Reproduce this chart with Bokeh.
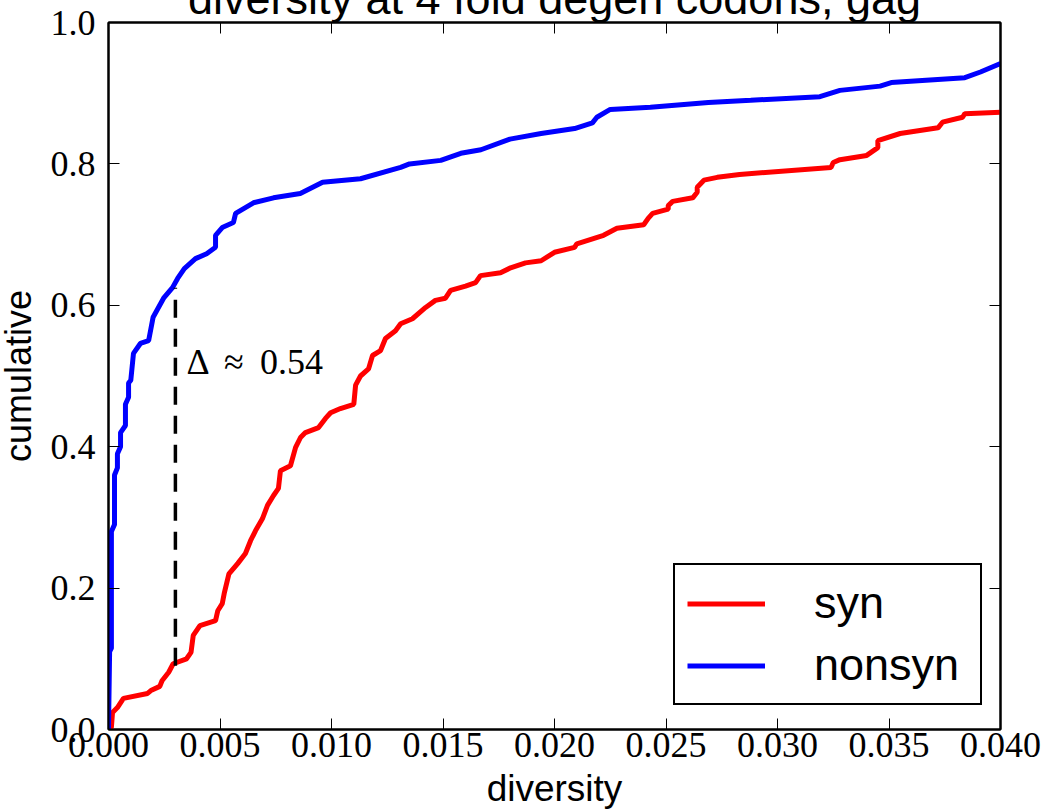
from bokeh.plotting import figure
from bokeh.models import (LinearAxis, FixedTicker, PrintfTickFormatter, Label,
                          Legend, LegendItem, ColumnDataSource, Title)
from bokeh.embed import file_html
from bokeh.resources import INLINE

# ---------------- data ----------------
title_text = "diversity at 4 fold degen codons, gag"
x_label = "diversity"
y_label = "cumulative"
series_names = ["syn", "nonsyn"]

syn_x = [0.0, 0.00013, 0.00018, 0.0004, 0.00067, 0.00175, 0.0019, 0.0023, 0.0024,
         0.0027, 0.0029, 0.0035, 0.0037, 0.0038, 0.0041, 0.0048, 0.0049, 0.0051,
         0.0052, 0.0054, 0.0058, 0.00614, 0.00637, 0.00659, 0.0069, 0.00713,
         0.0074, 0.00762, 0.00771, 0.00816, 0.00839, 0.00861, 0.00883, 0.00942,
         0.00973, 0.00996, 0.0104, 0.0110, 0.01108, 0.0113, 0.01166, 0.01184,
         0.0122, 0.01242, 0.01287, 0.0131, 0.01363, 0.01422, 0.01466, 0.01511,
         0.01534, 0.01601, 0.01646, 0.01668, 0.01758, 0.01803, 0.0187, 0.0194,
         0.0200, 0.0209, 0.0210, 0.0222, 0.0228, 0.0240, 0.0242, 0.0244, 0.0251,
         0.0251, 0.0253, 0.0262, 0.0264, 0.0264, 0.0267, 0.0273, 0.0283, 0.0324,
         0.0325, 0.0328, 0.0340, 0.0345, 0.0345, 0.0355, 0.0372, 0.0374, 0.0383,
         0.0384, 0.0400]
syn_y = [0.0, 0.003, 0.024, 0.031, 0.044, 0.051, 0.055, 0.061, 0.069,
         0.081, 0.093, 0.100, 0.109, 0.133, 0.147, 0.154, 0.168, 0.178,
         0.194, 0.220, 0.235, 0.249, 0.267, 0.281, 0.298, 0.317,
         0.331, 0.341, 0.366, 0.373, 0.399, 0.413, 0.420, 0.427,
         0.440, 0.448, 0.454, 0.460, 0.487, 0.500, 0.510, 0.529,
         0.536, 0.553, 0.564, 0.574, 0.581, 0.597, 0.607, 0.610,
         0.621, 0.627, 0.632, 0.642, 0.646, 0.653, 0.660, 0.663,
         0.675, 0.682, 0.687, 0.699, 0.709, 0.714, 0.723, 0.730, 0.736,
         0.741, 0.747, 0.752, 0.760, 0.767, 0.777, 0.781, 0.785, 0.795,
         0.802, 0.806, 0.812, 0.823, 0.833, 0.843, 0.851, 0.859, 0.866,
         0.871, 0.873]

nonsyn_x = [0.0, 0.00005, 0.00013, 0.00013, 0.00027, 0.00027, 0.0004, 0.0004,
            0.00054, 0.00054, 0.00076, 0.00076, 0.0009, 0.0009, 0.0010, 0.00112,
            0.00143, 0.0018, 0.0020, 0.00247, 0.00287, 0.0031, 0.0034, 0.0039,
            0.0044, 0.0048, 0.0048, 0.0051, 0.0056, 0.0057, 0.0065, 0.0074,
            0.0086, 0.0096, 0.0113, 0.0131, 0.0135, 0.0149, 0.0158, 0.0167,
            0.0180, 0.0194, 0.0209, 0.0217, 0.0219, 0.0225, 0.0243, 0.0269,
            0.0288, 0.0319, 0.0328, 0.0346, 0.0351, 0.0384, 0.0391, 0.0400]
nonsyn_y = [0.0, 0.110, 0.115, 0.280, 0.290, 0.360, 0.370, 0.390,
            0.400, 0.420, 0.430, 0.460, 0.470, 0.490, 0.494, 0.532,
            0.546, 0.550, 0.583, 0.610, 0.625, 0.638, 0.652, 0.666,
            0.673, 0.682, 0.699, 0.710, 0.717, 0.730, 0.745, 0.752,
            0.758, 0.774, 0.779, 0.795, 0.800, 0.805, 0.815, 0.820,
            0.835, 0.843, 0.850, 0.858, 0.866, 0.877, 0.880, 0.887,
            0.890, 0.895, 0.904, 0.910, 0.915, 0.922, 0.930, 0.942]

ks_x = [0.003, 0.003]
ks_y = [0.090, 0.625]
ks_text = "Δ \u2009≈\u2009 0.54"

x_ticks = [0.0, 0.005, 0.010, 0.015, 0.020, 0.025, 0.030, 0.035, 0.040]
y_ticks = [0.0, 0.2, 0.4, 0.6, 0.8, 1.0]

# ---------------- figure ----------------
SANS = "Liberation Sans"
SERIF = "Liberation Serif"
SHIFT = 68          # canvas part hidden above the window (title is cropped there)
LSHIFT = 30         # canvas part hidden left of the window
TOP = 22 + SHIFT

p = figure(width=1042 + LSHIFT, height=811 + SHIFT, x_range=(0, 0.04),
           y_range=(0, 1.0), output_backend="svg", toolbar_location=None,
           tools="", x_axis_type=None, y_axis_type=None)
p.styles = {"margin-top": f"-{SHIFT}px", "margin-left": f"-{LSHIFT}px"}
p.min_border_left = 108 + LSHIFT
p.min_border_right = 42
p.min_border_top = TOP
p.min_border_bottom = 82
p.xgrid.visible = False
p.ygrid.visible = False
p.outline_line_color = "black"
p.outline_line_width = 2
p.background_fill_color = "white"
p.border_fill_color = "white"

p.title = Title(text=title_text, align="center", text_font=SANS,
                text_font_size="45px", text_font_style="normal",
                text_color="black", standoff=-3, offset=0)


def make_axis(ticks, fmt, show_labels, standoff):
    ax = LinearAxis(ticker=FixedTicker(ticks=ticks),
                    formatter=PrintfTickFormatter(format=fmt))
    ax.axis_line_color = "black"
    ax.axis_line_width = 2
    ax.major_tick_in = 11
    ax.major_tick_out = 0
    ax.major_tick_line_width = 1
    ax.minor_tick_line_color = None
    ax.major_label_standoff = standoff
    if show_labels:
        ax.major_label_text_font = SERIF
        ax.major_label_text_font_size = "36px"
        ax.major_label_text_color = "black"
    else:
        ax.major_label_text_font_size = "0px"
        ax.major_label_text_color = None
    return ax


xaxis = make_axis(x_ticks, "%.3f", True, 3)
xaxis.axis_label = x_label
xaxis.axis_label_text_font = SANS
xaxis.axis_label_text_font_size = "37px"
xaxis.axis_label_text_font_style = "normal"
xaxis.axis_label_text_color = "black"
xaxis.axis_label_standoff = 8
p.add_layout(xaxis, "below")

yaxis = make_axis(y_ticks, "%.1f", True, 13)
yaxis.axis_label = y_label
yaxis.axis_label_text_font = SANS
yaxis.axis_label_text_font_size = "36px"
yaxis.axis_label_text_font_style = "normal"
yaxis.axis_label_text_color = "black"
yaxis.axis_label_standoff = 9
p.add_layout(yaxis, "left")

p.add_layout(make_axis(x_ticks, "%.3f", False, 0), "above")
p.add_layout(make_axis(y_ticks, "%.1f", False, 0), "right")

syn_src = ColumnDataSource(dict(x=syn_x, y=syn_y))
non_src = ColumnDataSource(dict(x=nonsyn_x, y=nonsyn_y))
r_syn = p.line("x", "y", source=syn_src, line_color="#ff0000", line_width=5)
r_non = p.line("x", "y", source=non_src, line_color="#0000ff", line_width=5)

p.line(ks_x, ks_y, line_color="black", line_width=3.5, line_dash="18 11")

p.add_layout(Label(x=0.0035, y=0.52, text=ks_text, text_font=SERIF,
                   text_font_size="36px", text_color="black",
                   text_baseline="alphabetic", text_align="left"))

legend = Legend(items=[LegendItem(label=series_names[0], renderers=[r_syn]),
                       LegendItem(label=series_names[1], renderers=[r_non])],
                location=(565, 24))
legend.border_line_color = "black"
legend.border_line_alpha = 1.0
legend.border_line_width = 2
legend.background_fill_color = "white"
legend.background_fill_alpha = 1.0
legend.label_text_font = SANS
legend.label_text_font_size = "45px"
legend.label_text_color = "black"
legend.glyph_width = 78
legend.glyph_height = 45
legend.label_height = 45
legend.label_width = 154
legend.label_standoff = 49
legend.padding = 12
legend.spacing = 10
legend.margin = 0
p.add_layout(legend, "center")

open("out.html", "w").write(file_html(p, INLINE))
